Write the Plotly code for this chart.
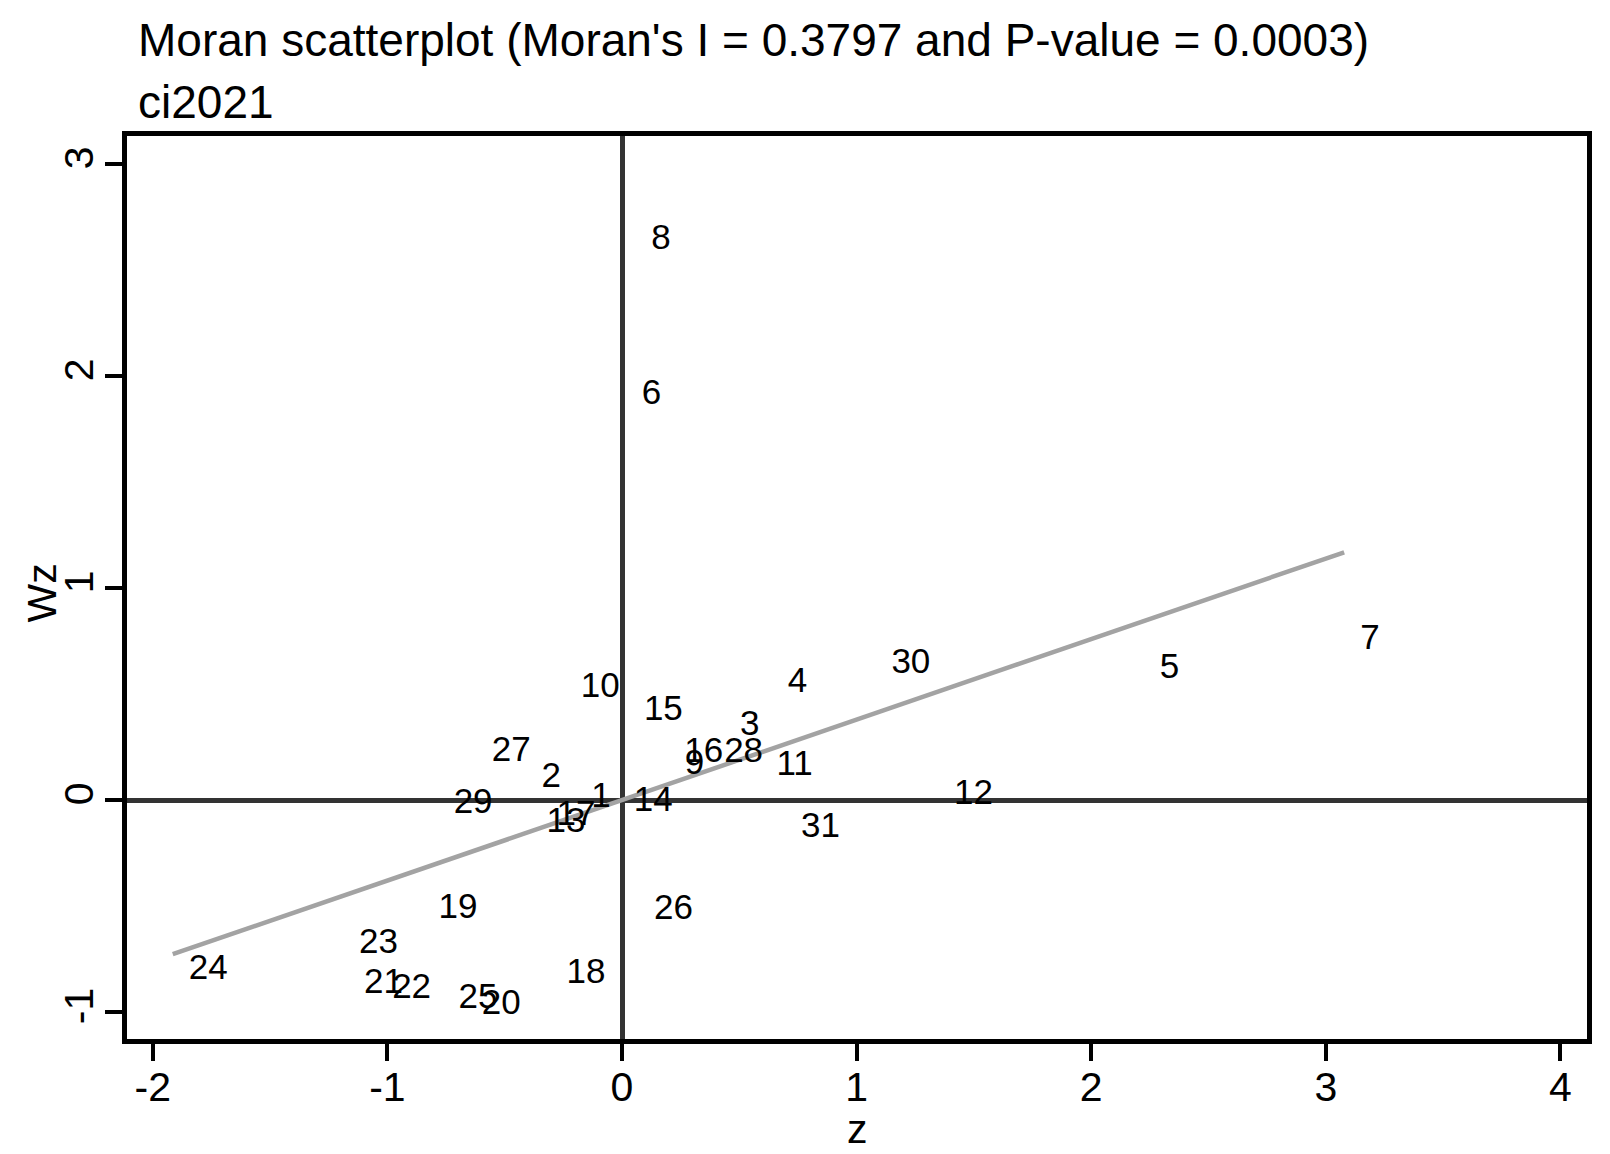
import plotly.graph_objects as go

# Observation ids (marker labels)
ids = [str(i) for i in range(1, 32)]

# Standardised variable z (ci2021)
z = [-0.199, -0.411, 0.435, 0.638, 2.224, 0.016, 3.078, 0.056, 0.199, -0.244,
     0.590, 1.347, -0.390, -0.018, 0.025, 0.197, -0.347, -0.305, -0.850, -0.666,
     -1.168, -1.048, -1.189, -1.915, -0.765, 0.068, -0.623, 0.367, -0.786, 1.080,
     0.695]

# Spatial lag Wz
wz = [0.009, 0.103, 0.346, 0.553, 0.616, 1.910, 0.756, 2.642, 0.166, 0.526,
      0.160, 0.024, -0.108, -0.011, 0.421, 0.221, -0.077, -0.820, -0.515, -0.969,
      -0.867, -0.891, -0.680, -0.805, -0.938, -0.519, 0.225, 0.221, -0.022, 0.640,
      -0.131]

morans_i = 0.3797
p_value = 0.0003

x_ticks = [-2, -1, 0, 1, 2, 3, 4]
y_ticks = [-1, 0, 1, 2, 3]

FONT = "Liberation Sans, Arial, Helvetica, sans-serif"

fig = go.Figure()

# Fitted line (slope = Moran's I)
zmin, zmax = min(z), max(z)
fig.add_trace(go.Scatter(
    x=[zmin, zmax], y=[morans_i * zmin, morans_i * zmax],
    mode="lines", line=dict(color="#a3a3a3", width=4.5),
    showlegend=False, hoverinfo="skip"))

# Labelled points (markers invisible, label to the right)
fig.add_trace(go.Scatter(
    x=z, y=wz, mode="markers+text", text=ids,
    textposition="middle right",
    textfont=dict(family=FONT, size=35, color="black"),
    marker=dict(size=24, color="rgba(0,0,0,0)"),
    showlegend=False))

axis_common = dict(
    showline=True, linecolor="black", linewidth=4.5, mirror=True,
    showgrid=False, zeroline=True, zerolinecolor="#333333", zerolinewidth=5,
    ticks="outside", ticklen=17, tickwidth=3.5, tickcolor="black",
    tickfont=dict(family=FONT, size=41, color="black"),
)

fig.update_xaxes(
    range=[-2.11, 4.113], tickvals=x_ticks, ticktext=[str(t) for t in x_ticks],
    ticklabelstandoff=-9,
    **axis_common)
fig.update_yaxes(
    range=[-1.127, 3.132], tickvals=y_ticks, ticktext=[str(t) for t in y_ticks],
    tickangle=-90, ticklabelstandoff=-4,
    **axis_common)

# Axis titles
fig.add_annotation(
    text="z", xref="paper", yref="paper", x=0.5, y=0, xanchor="center",
    yanchor="middle", yshift=-90, showarrow=False,
    font=dict(family=FONT, size=41, color="black"))
fig.add_annotation(
    text="Wz", xref="paper", yref="paper", x=0, y=0.5, xanchor="center",
    yanchor="middle", xshift=-86, yshift=-6, textangle=-90, showarrow=False,
    font=dict(family=FONT, size=41, color="black"))

# Titles
fig.add_annotation(
    text=f"Moran scatterplot (Moran's I = {morans_i} and P-value = {p_value:.4f})",
    xref="paper", yref="paper", x=0, y=1, xanchor="left", yanchor="middle",
    xshift=9, yshift=96, showarrow=False,
    font=dict(family=FONT, size=46, color="black"))
fig.add_annotation(
    text="ci2021",
    xref="paper", yref="paper", x=0, y=1, xanchor="left", yanchor="middle",
    xshift=9, yshift=34, showarrow=False,
    font=dict(family=FONT, size=46, color="black"))

fig.update_layout(
    width=1610, height=1154,
    margin=dict(l=119, r=31, t=128, b=123),
    paper_bgcolor="white", plot_bgcolor="white",
    font=dict(family=FONT, color="black"),
)

fig.write_html("out.html")
